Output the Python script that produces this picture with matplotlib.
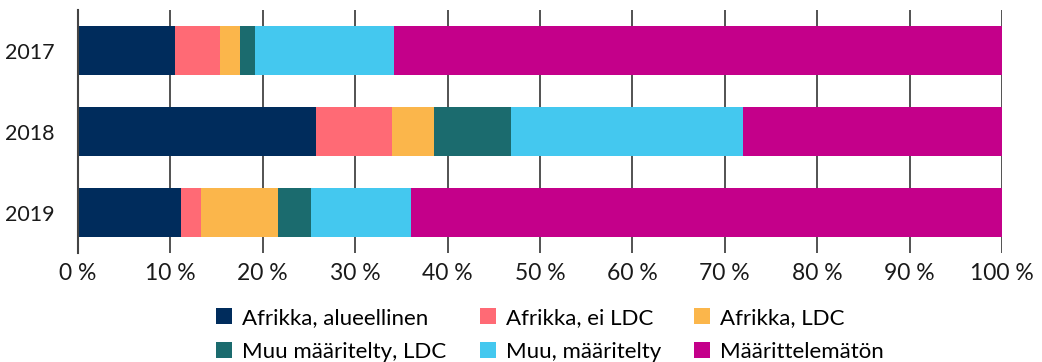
import matplotlib
matplotlib.use("Agg")
import matplotlib.pyplot as plt
import numpy as np

plt.rcParams['font.family'] = ['Lato', 'DejaVu Sans']

years = ["2017", "2018", "2019"]
series = ["Afrikka, alueellinen", "Afrikka, ei LDC", "Afrikka, LDC",
          "Muu määritelty, LDC", "Muu, määritelty", "Määrittelemätön"]
afrikka_alueellinen = [10.5, 25.8, 11.1]
afrikka_ei_ldc = [4.9, 8.2, 2.2]
afrikka_ldc = [2.1, 4.5, 8.3]
muu_maaritelty_ldc = [1.7, 8.4, 3.6]
muu_maaritelty = [15.0, 25.1, 10.8]
maarittelematon = [65.8, 28.0, 64.0]
values = [afrikka_alueellinen, afrikka_ei_ldc, afrikka_ldc,
          muu_maaritelty_ldc, muu_maaritelty, maarittelematon]
colors = ["#002c5c", "#ff6a75", "#fbb64b", "#1b6b6e", "#44c8ef", "#c4008a"]
xticks = [0, 10, 20, 30, 40, 50, 60, 70, 80, 90, 100]
xticklabels = [f"{t} %" for t in xticks]

fig = plt.figure(figsize=(10.42, 3.62), dpi=100)
ax = fig.add_axes([78/1042, 1-253/362, 924/1042, 243/362])

y = np.arange(len(years))
left = np.zeros(len(years))
handles = []
for name, vals, c in zip(series, values, colors):
    vals = np.array(vals)
    h = ax.barh(y, vals, left=left, height=0.6, color=c, label=name, zorder=3)
    handles.append(h)
    left += vals

ax.set_xlim(0, 100)
ax.set_ylim(2.5, -0.5)
ax.set_yticks(y)
ax.set_yticklabels(years)
ax.set_xticks(xticks)
ax.set_xticklabels(xticklabels)
ax.tick_params(axis='both', length=0, labelsize=16.5, colors='#1a1a1a')
ax.tick_params(axis='y', pad=17, labelsize=15.5)
ax.tick_params(axis='x', pad=7)
ax.grid(axis='x', color='#444444', linewidth=1.3, zorder=0)
for s in ['top', 'right', 'bottom']:
    ax.spines[s].set_visible(False)
ax.spines['left'].set_color('#444444')
ax.spines['left'].set_linewidth(1.5)
ax.spines['left'].set_zorder(4)

order = [0, 3, 1, 4, 2, 5]
fig.legend([handles[i] for i in order], [series[i] for i in order],
           loc='upper center', bbox_to_anchor=(550/1042, 1-308/362), ncol=3,
           frameon=False, fontsize=16, handlelength=0.72, handleheight=0.72,
           handletextpad=0.45, columnspacing=1.5, labelspacing=0.62,
           borderaxespad=0, borderpad=0)

fig.savefig("out.png", dpi=100)
